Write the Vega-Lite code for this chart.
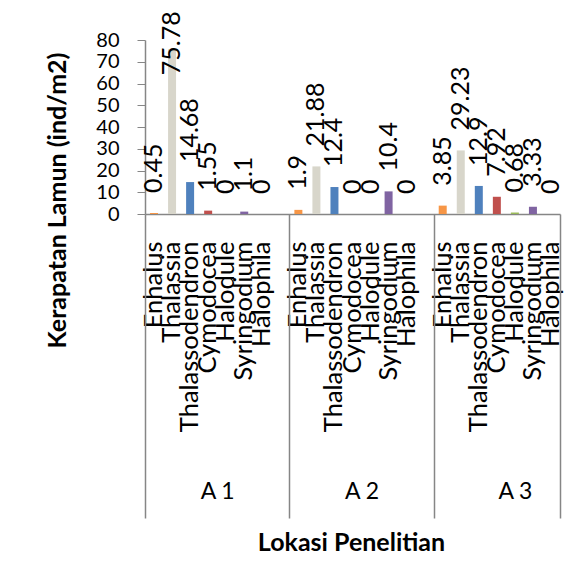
{
  "$schema": "https://vega.github.io/schema/vega-lite/v6.json",
  "width": 415,
  "height": 174,
  "autosize": {"type": "none"},
  "padding": {"left": 145, "top": 40, "right": 22, "bottom": 359},
  "background": "white",
  "config": {"view": {"stroke": null}, "font": "Lato", "axis": {"grid": false}},
  "data": {
    "values": [
      {"kunci": "A 1|Enhalus", "lokasi": "A 1", "spesies": "Enhalus", "nilai": 0.45},
      {"kunci": "A 1|Thalassia", "lokasi": "A 1", "spesies": "Thalassia", "nilai": 75.78},
      {"kunci": "A 1|Thalassodendron", "lokasi": "A 1", "spesies": "Thalassodendron", "nilai": 14.68},
      {"kunci": "A 1|Cymodocea", "lokasi": "A 1", "spesies": "Cymodocea", "nilai": 1.55},
      {"kunci": "A 1|Halodule", "lokasi": "A 1", "spesies": "Halodule", "nilai": 0},
      {"kunci": "A 1|Syringodium", "lokasi": "A 1", "spesies": "Syringodium", "nilai": 1.1},
      {"kunci": "A 1|Halophila", "lokasi": "A 1", "spesies": "Halophila", "nilai": 0},
      {"kunci": "A 2|Enhalus", "lokasi": "A 2", "spesies": "Enhalus", "nilai": 1.9},
      {"kunci": "A 2|Thalassia", "lokasi": "A 2", "spesies": "Thalassia", "nilai": 21.88},
      {"kunci": "A 2|Thalassodendron", "lokasi": "A 2", "spesies": "Thalassodendron", "nilai": 12.4},
      {"kunci": "A 2|Cymodocea", "lokasi": "A 2", "spesies": "Cymodocea", "nilai": 0},
      {"kunci": "A 2|Halodule", "lokasi": "A 2", "spesies": "Halodule", "nilai": 0},
      {"kunci": "A 2|Syringodium", "lokasi": "A 2", "spesies": "Syringodium", "nilai": 10.4},
      {"kunci": "A 2|Halophila", "lokasi": "A 2", "spesies": "Halophila", "nilai": 0},
      {"kunci": "A 3|Enhalus", "lokasi": "A 3", "spesies": "Enhalus", "nilai": 3.85},
      {"kunci": "A 3|Thalassia", "lokasi": "A 3", "spesies": "Thalassia", "nilai": 29.23},
      {"kunci": "A 3|Thalassodendron", "lokasi": "A 3", "spesies": "Thalassodendron", "nilai": 12.9},
      {"kunci": "A 3|Cymodocea", "lokasi": "A 3", "spesies": "Cymodocea", "nilai": 7.92},
      {"kunci": "A 3|Halodule", "lokasi": "A 3", "spesies": "Halodule", "nilai": 0.68},
      {"kunci": "A 3|Syringodium", "lokasi": "A 3", "spesies": "Syringodium", "nilai": 3.33},
      {"kunci": "A 3|Halophila", "lokasi": "A 3", "spesies": "Halophila", "nilai": 0}
    ]
  },
  "encoding": {
    "y": {
      "field": "nilai",
      "type": "quantitative",
      "title": "Kerapatan Lamun (ind/m2)",
      "scale": {"domain": [0, 80], "nice": false},
      "axis": {
        "values": [0, 10, 20, 30, 40, 50, 60, 70, 80],
        "labelOverlap": false,
        "titleFont": "Lato",
        "titleFontSize": 25,
        "titleFontWeight": "bold",
        "titleColor": "black",
        "titleX": -88,
        "titleY": 160,
        "titleAngle": 270,
        "titleAlign": "center",
        "titleBaseline": "middle",
        "labelFont": "Lato",
        "labelFontSize": 20,
        "labelColor": "black",
        "labelPadding": 18,
        "tickSize": 8,
        "tickColor": "#868686",
        "domainColor": "#868686",
        "domainWidth": 1.5
      }
    }
  },
  "layer": [
    {
      "mark": {"type": "bar", "size": 8},
      "encoding": {
        "x": {
          "field": "kunci",
          "type": "nominal",
          "scale": {
            "domain": ["A 1|Enhalus", "A 1|Thalassia", "A 1|Thalassodendron", "A 1|Cymodocea", "A 1|Halodule", "A 1|Syringodium", "A 1|Halophila", "A 1|",
                       "A 2|Enhalus", "A 2|Thalassia", "A 2|Thalassodendron", "A 2|Cymodocea", "A 2|Halodule", "A 2|Syringodium", "A 2|Halophila", "A 2|",
                       "A 3|Enhalus", "A 3|Thalassia", "A 3|Thalassodendron", "A 3|Cymodocea", "A 3|Halodule", "A 3|Syringodium", "A 3|Halophila"],
            "paddingInner": 0,
            "paddingOuter": 0
          },
          "axis": {
            "orient": "bottom",
            "title": null,
            "labelExpr": "isString(datum.value) ? split(datum.value,'|')[1] : ''",
            "labelAngle": 270,
            "labelAlign": "right",
            "labelBaseline": "middle",
            "labelFont": "Lato",
            "labelFontSize": 25.5,
            "labelColor": "black",
            "labelPadding": 27,
            "labelLimit": 0,
            "labelOverlap": false,
            "ticks": false,
            "domain": true,
            "domainColor": "#868686",
            "domainWidth": 1.5
          }
        },
        "color": {
          "field": "spesies",
          "type": "nominal",
          "scale": {
            "domain": ["Enhalus", "Thalassia", "Thalassodendron", "Cymodocea", "Halodule", "Syringodium", "Halophila"],
            "range": ["#F79646", "#D8D6CB", "#4F81BD", "#C0504D", "#9BBB59", "#8064A2", "#4BACC6"]
          },
          "legend": null
        }
      }
    },
    {
      "mark": {
        "type": "text",
        "angle": 270,
        "align": "left",
        "baseline": "middle",
        "font": "Lato",
        "fontSize": 25,
        "color": "black",
        "yOffset": {"expr": "datum.nilai > 70 ? 26 : -20"}
      },
      "encoding": {
        "x": {
          "field": "kunci",
          "type": "nominal",
          "scale": {
            "domain": ["A 1|Enhalus", "A 1|Thalassia", "A 1|Thalassodendron", "A 1|Cymodocea", "A 1|Halodule", "A 1|Syringodium", "A 1|Halophila", "A 1|",
                       "A 2|Enhalus", "A 2|Thalassia", "A 2|Thalassodendron", "A 2|Cymodocea", "A 2|Halodule", "A 2|Syringodium", "A 2|Halophila", "A 2|",
                       "A 3|Enhalus", "A 3|Thalassia", "A 3|Thalassodendron", "A 3|Cymodocea", "A 3|Halodule", "A 3|Syringodium", "A 3|Halophila"],
            "paddingInner": 0,
            "paddingOuter": 0
          },
          "axis": {
            "orient": "bottom",
            "title": "Lokasi Penelitian",
            "titleFont": "Lato",
            "titleFontSize": 25,
            "titleFontWeight": "bold",
            "titleColor": "black",
            "titleX": 206,
            "titleY": 328,
            "titleAlign": "center",
            "titleBaseline": "middle",
            "labelExpr": "isString(datum.value) && indexof(datum.value,'Halodule') >= 0 ? split(datum.value,'|')[0] : ''",
            "labelAngle": 0,
            "labelAlign": "center",
            "labelBaseline": "top",
            "labelFont": "Lato",
            "labelFontSize": 23,
            "labelColor": "black",
            "labelOverlap": false,
            "labelOffset": {"condition": {"test": "isString(datum.value) && indexof(datum.value,'A 3') == 0", "value": 0}, "value": -9},
            "labelPadding": -38,
            "tickBand": "extent",
            "tickSize": 304,
            "tickColor": "#868686",
            "tickWidth": 1.5,
            "tickOpacity": {"condition": {"test": "datum.extra || datum.value == 'A 1|' || datum.value == 'A 2|' || datum.value == 'A 3|Halophila'", "value": 1}, "value": 0},
            "domain": false
          }
        },
        "text": {"field": "nilai", "type": "nominal"}
      }
    }
  ],
  "resolve": {"scale": {"x": "independent"}, "axis": {"x": "independent"}}
}
